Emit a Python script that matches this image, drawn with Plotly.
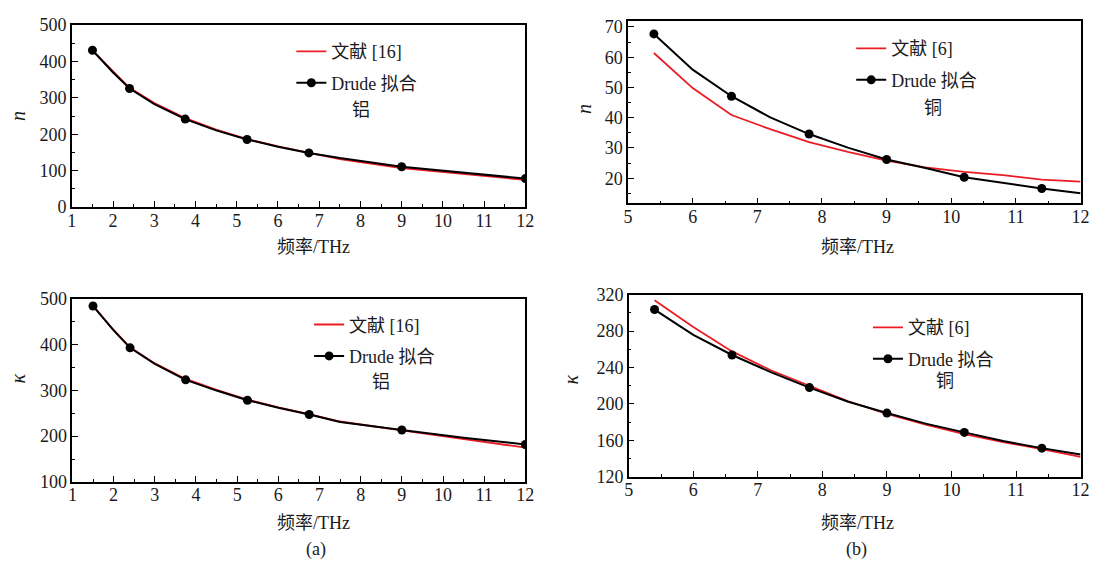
import plotly.graph_objects as go

# ---- aluminium (铝): frequency grid in THz ----
al_freq = [1.5, 2.0, 2.4, 3.0, 3.75, 4.5, 5.25, 6.0, 6.75, 7.5, 9.0, 10.5, 12.0]
al_mark = [True, False, True, False, True, False, True, False, True, False, True, False, True]
al_n_ref = [430, 373, 328, 286, 245, 213, 187, 167, 149, 132, 107, 90, 75]
al_n_drude = [431, 370, 326, 283, 242, 211, 186, 166, 149, 135, 111, 94, 78.5]
al_k_ref = [484, 432, 394, 359, 325, 301, 280, 263, 248, 232, 212.5, 194, 175]
al_k_drude = [484.5, 431, 393, 358, 323, 299.6, 278.5, 262, 247.4, 231, 213.5, 196.6, 181.8]

# ---- copper (铜) ----
cu_freq = [5.4, 6.0, 6.6, 7.2, 7.8, 8.4, 9.0, 9.6, 10.2, 10.8, 11.4, 12.0]
cu_mark = [True, False, True, False, True, False, True, False, True, False, True, False]
cu_n_ref = [61.4, 49.8, 40.9, 36.2, 31.9, 28.7, 25.8, 23.6, 22.1, 21.0, 19.5, 18.9]
cu_n_drude = [67.7, 55.9, 47.1, 40.1, 34.6, 30.1, 26.2, 23.4, 20.3, 18.4, 16.6, 15.0]
cu_k_ref = [314, 284.6, 257.7, 237, 220, 203, 189, 177.4, 167, 158.2, 150.4, 142]
cu_k_drude = [303.7, 276, 253.8, 235, 218, 202.5, 190, 178.4, 168.8, 159.3, 151.5, 144.4]

ref_al_name = "文献 [16]"
ref_cu_name = "文献 [6]"
drude_name = "Drude 拟合"
xlabel = "频率/THz"

W, H = 1110, 573
SERIF = "'Liberation Serif', 'Noto Sans CJK SC', serif"
INK = "#1a1a1a"
RED = "#ec1c24"
FS = 18


def px_x(p):
    return p / W


def px_y(p):
    return 1 - p / H


fig = go.Figure()

panels = [
    # (xaxis id, yaxis id, freq, ref, drude, marks, ref name, legend id)
    ("x", "y", al_freq, al_n_ref, al_n_drude, al_mark, ref_al_name, "legend"),
    ("x2", "y2", cu_freq, cu_n_ref, cu_n_drude, cu_mark, ref_cu_name, "legend2"),
    ("x3", "y3", al_freq, al_k_ref, al_k_drude, al_mark, ref_al_name, "legend3"),
    ("x4", "y4", cu_freq, cu_k_ref, cu_k_drude, cu_mark, ref_cu_name, "legend4"),
]

for xa, ya, fr, ref, dr, mk, rname, lg in panels:
    fig.add_trace(go.Scatter(
        x=fr, y=ref, mode="lines", name=rname,
        line=dict(color=RED, width=1.8),
        xaxis=xa, yaxis=ya, legend=lg, legendgroup=lg + "r",
    ))
    # markers only on the sampled fit points; the rest stay hidden
    fig.add_trace(go.Scatter(
        x=fr, y=dr, mode="lines+markers", name=drude_name,
        line=dict(color="black", width=2),
        marker=dict(color="black", size=9),
        selectedpoints=[i for i, m in enumerate(mk) if m],
        selected=dict(marker=dict(opacity=1)),
        unselected=dict(marker=dict(opacity=0)),
        xaxis=xa, yaxis=ya, legend=lg, legendgroup=lg + "d",
    ))

axis_common = dict(
    showline=True, linecolor="black", linewidth=1.5, mirror=True,
    ticks="inside", ticklen=6, tickwidth=1.2, tickcolor="black",
    showgrid=False, zeroline=False,
    tickfont=dict(family=SERIF, size=FS, color=INK),
    minor=dict(ticks="inside", ticklen=3, tickwidth=1.2, tickcolor="black", showgrid=False),
)

# pixel frames of the four panels: left, right, top, bottom
frames = {
    "1": (67.7, 527, 15.7, 204.3),
    "2": (631, 1089.3, 11, 200.3),
    "3": (68.3, 527, 299.3, 489),
    "4": (631.7, 1089.3, 295, 483.7),
}
xranges = {"1": [1, 12], "2": [5, 12], "3": [1, 12], "4": [5, 12]}
yranges = {"1": [0, 500], "2": [11.7, 72.1], "3": [100, 500], "4": [120, 320]}
ydt = {"1": (100, 50), "2": (10, 5), "3": (100, 50), "4": (40, 20)}

layout = {}
for k, (l, r, t, b) in frames.items():
    sx = "" if k == "1" else k
    xa = dict(axis_common)
    xa.update(domain=[px_x(l), px_x(r)], range=xranges[k], dtick=1, tick0=0,
              anchor="y" + sx, ticklabelstandoff=-4,
              minor=dict(axis_common["minor"], dtick=0.5))
    ya = dict(axis_common)
    ya.update(domain=[px_y(b), px_y(t)], range=yranges[k], dtick=ydt[k][0], tick0=0,
              anchor="x" + sx, minor=dict(axis_common["minor"], dtick=ydt[k][1]))
    layout["xaxis" + sx] = xa
    layout["yaxis" + sx] = ya

fig.update_layout(**layout)

legend_style = dict(
    font=dict(family=SERIF, size=FS, color=INK),
    bgcolor="rgba(0,0,0,0)", borderwidth=0, tracegroupgap=5,
    xanchor="left", yanchor="top",
)
legend_pos = {"legend": (290, 24), "legend2": (857, 21), "legend3": (308, 307), "legend4": (874, 310)}
for name, (lx, ly) in legend_pos.items():
    fig.update_layout(**{name: dict(legend_style, x=px_x(lx), y=px_y(ly))})

annotations = []


def text(x, y, s, size=FS, angle=0):
    annotations.append(dict(
        x=px_x(x), y=px_y(y), xref="paper", yref="paper", text=s, showarrow=False,
        xanchor="center", yanchor="middle", textangle=angle,
        font=dict(family=SERIF, size=size, color=INK),
    ))


# metal labels under the legends
text(361, 104, "铝")
text(940, 102, "铜")
text(381, 385, "铝")
text(952, 384, "铜")
# x axis titles
text(312, 246, xlabel)
text(863, 246, xlabel)
text(312, 532, xlabel)
text(863, 532, xlabel)
# y axis titles
text(13, 110, "<i>n</i>", size=20, angle=-90)
text(587, 103, "<i>n</i>", size=20, angle=-90)
text(13, 382, "<i>κ</i>", size=20, angle=-90)
text(573, 383, "<i>κ</i>", size=20, angle=-90)
# panel captions
text(315, 559, "(a)")
text(862, 559, "(b)")

fig.update_layout(
    width=W, height=H, margin=dict(l=0, r=0, t=0, b=0),
    paper_bgcolor="white", plot_bgcolor="white",
    showlegend=True, annotations=annotations,
)

fig.write_html("out.html")
